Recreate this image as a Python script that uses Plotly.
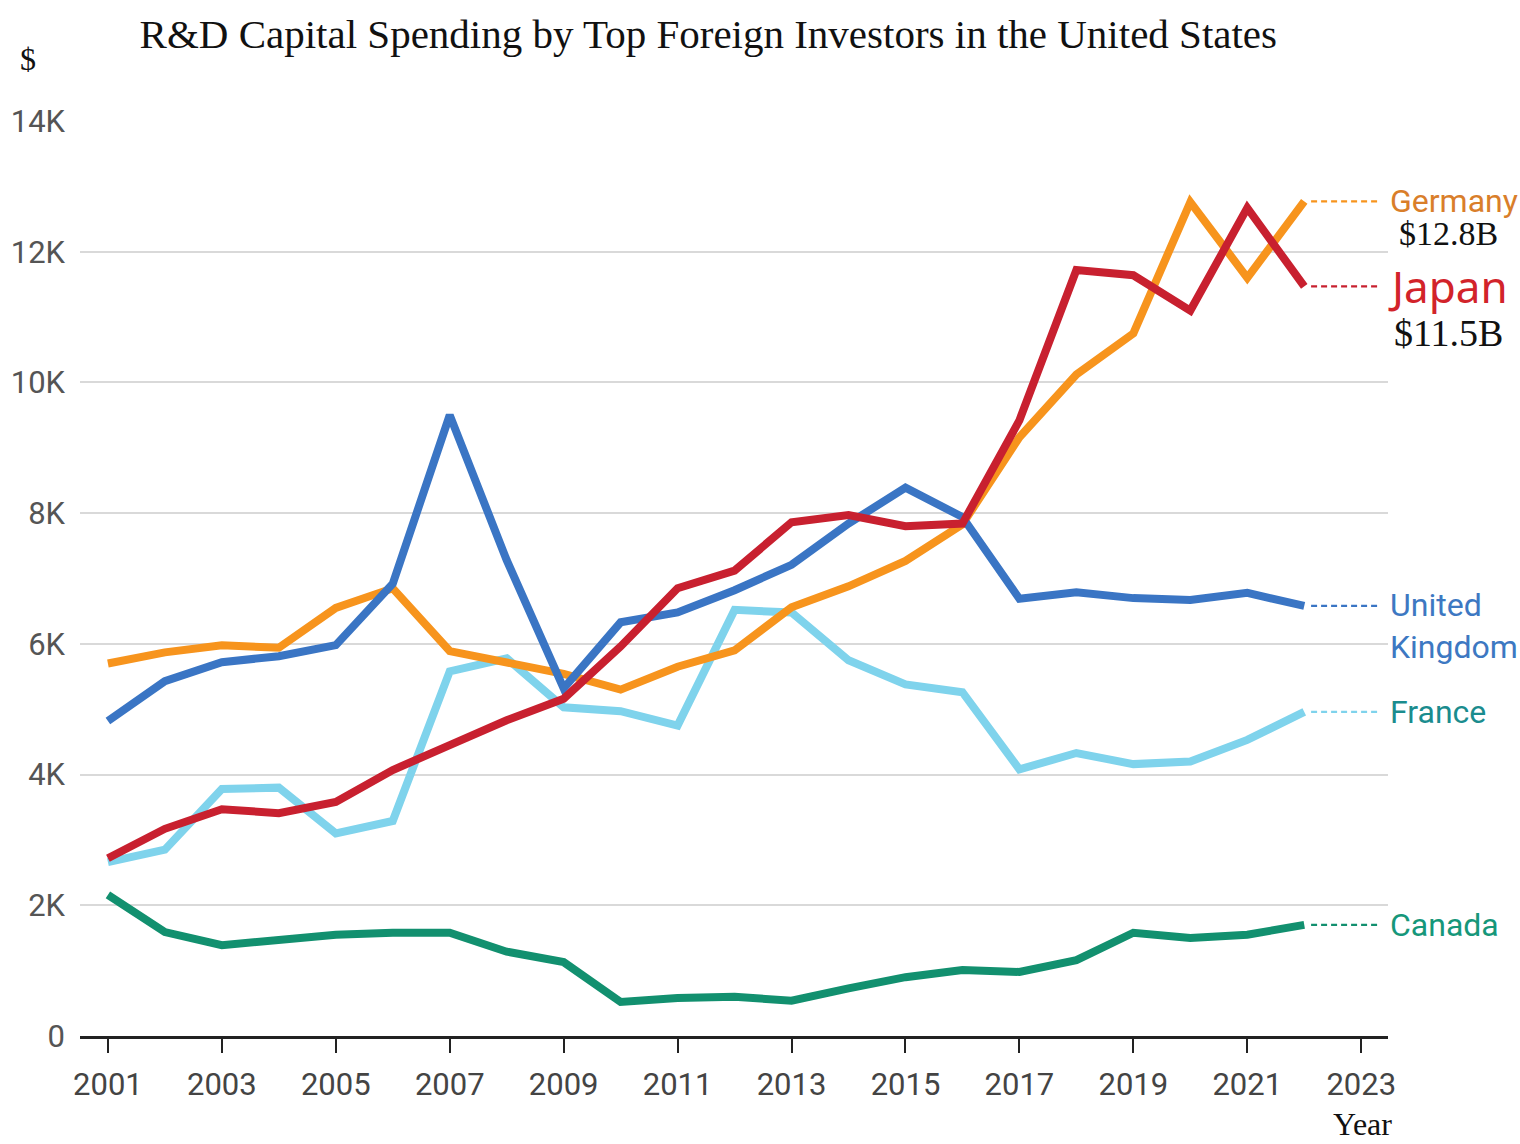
import plotly.graph_objects as go

years = list(range(2001, 2023))

germany = [5.70, 5.87, 5.98, 5.94, 6.55, 6.85, 5.89, 5.72, 5.54, 5.30, 5.65, 5.90,
           6.56, 6.88, 7.27, 7.83, 9.16, 10.12, 10.75, 12.76, 11.60, 12.77]
japan = [2.72, 3.17, 3.47, 3.41, 3.58, 4.07, 4.45, 4.83, 5.16, 5.96, 6.85, 7.12,
         7.86, 7.97, 7.80, 7.84, 9.42, 11.72, 11.64, 11.10, 12.67, 11.47]
uk = [4.82, 5.43, 5.72, 5.81, 5.98, 6.92, 9.50, 7.28, 5.32, 6.33, 6.48, 6.82,
      7.21, 7.84, 8.39, 7.94, 6.69, 6.79, 6.70, 6.67, 6.78, 6.58]
france = [2.66, 2.85, 3.78, 3.80, 3.10, 3.29, 5.58, 5.78, 5.03, 4.97, 4.75, 6.52,
          6.48, 5.75, 5.38, 5.26, 4.08, 4.33, 4.16, 4.20, 4.53, 4.96]
canada = [2.16, 1.59, 1.39, 1.47, 1.55, 1.58, 1.58, 1.29, 1.13, 0.52, 0.58, 0.60,
          0.54, 0.73, 0.90, 1.01, 0.98, 1.16, 1.58, 1.50, 1.55, 1.70]

series = [
    # name, values, line color, label text, label color
    ("Canada", canada, "#12906F", "Canada", "#16977A"),
    ("France", france, "#7FD3EC", "France", "#1A8C8E"),
    ("Germany", germany, "#F7941D", "Germany", "#D97E2A"),
    ("United Kingdom", uk, "#3A75C4", "United<br>Kingdom", "#3D78C2"),
    ("Japan", japan, "#C8202F", "Japan", "#D2232A"),
]

xticks = list(range(2001, 2024, 2))
yticks = [0, 2000, 4000, 6000, 8000, 10000, 12000, 14000]
yticklabels = ["0", "2K", "4K", "6K", "8K", "10K", "12K", "14K"]

fig = go.Figure()
shapes = []
annotations = []

for name, vals, color, label, lcolor in series:
    yv = [v * 1000 for v in vals]
    fig.add_trace(go.Scatter(
        x=years, y=yv, mode="lines", name=name,
        line=dict(color=color, width=8),
        hoverinfo="x+y+name",
    ))
    shapes.append(dict(
        type="line", xref="x", yref="y",
        x0=years[-1] + 0.12, x1=years[-1] + 1.28,
        y0=yv[-1], y1=yv[-1],
        line=dict(color=color, width=2.2, dash="6px,4px"),
        layer="above",
    ))
    if name == "United Kingdom":
        annotations.append(dict(
            xref="paper", yref="y", x=1.0, y=yv[-1], xanchor="left", yanchor="top",
            xshift=0, yshift=22, text=label, showarrow=False, align="left",
            font=dict(family="Roboto", size=32, color=lcolor),
        ))
    elif name == "Japan":
        annotations.append(dict(
            xref="paper", yref="y", x=1.0, y=yv[-1], xanchor="left", yanchor="middle",
            xshift=-2, yshift=0, text=label, showarrow=False,
            font=dict(family="Noto Sans", size=44, color=lcolor),
        ))
    else:
        annotations.append(dict(
            xref="paper", yref="y", x=1.0, y=yv[-1], xanchor="left", yanchor="middle",
            xshift=0, yshift=0, text=label, showarrow=False,
            font=dict(family="Roboto", size=32, color=lcolor),
        ))

# value callouts
annotations.append(dict(
    xref="paper", yref="y", x=1.0, y=germany[-1] * 1000, xanchor="center", yanchor="middle",
    xshift=60, yshift=-32, text="$12.8B", showarrow=False,
    font=dict(family="Liberation Serif", size=34, color="#111111"),
))
annotations.append(dict(
    xref="paper", yref="y", x=1.0, y=japan[-1] * 1000, xanchor="center", yanchor="middle",
    xshift=60, yshift=-47, text="$11.5B", showarrow=False,
    font=dict(family="Liberation Serif", size=38, color="#111111"),
))
# axis titles
annotations.append(dict(
    xref="paper", yref="paper", x=0, y=1, xanchor="center", yanchor="middle",
    xshift=-52, yshift=62, text="$", showarrow=False,
    font=dict(family="Liberation Serif", size=32, color="#111111"),
))
annotations.append(dict(
    xref="paper", yref="paper", x=1, y=0, xanchor="right", yanchor="middle",
    xshift=6, yshift=-88, text="Year", showarrow=False,
    font=dict(family="Liberation Serif", size=32, color="#111111"),
))

fig.update_layout(
    width=1520, height=1144,
    margin=dict(l=80, r=132, t=121, b=108, autoexpand=False),
    paper_bgcolor="white", plot_bgcolor="white",
    showlegend=False,
    title=dict(
        text="R&D Capital Spending by Top Foreign Investors in the United States",
        x=0.466, xanchor="center", y=0.971, yanchor="middle",
        font=dict(family="Liberation Serif", size=41, color="#111111"),
    ),
    shapes=shapes,
    annotations=annotations,
)

fig.update_xaxes(
    range=[2000.51, 2023.47], automargin=False,
    tickmode="array", tickvals=xticks, ticktext=[str(t) for t in xticks],
    showgrid=False, zeroline=False,
    showline=True, linecolor="#222222", linewidth=3,
    ticks="outside", ticklen=14, tickwidth=2, tickcolor="#222222",
    tickfont=dict(family="Roboto", size=31, color="#444444"),
    ticklabelstandoff=5,
)
fig.update_yaxes(
    range=[0, 14000], automargin=False,
    tickmode="array", tickvals=yticks, ticktext=yticklabels,
    showgrid=True, gridcolor="#D9D9D9", gridwidth=2,
    zeroline=False, showline=False, ticks="",
    tickfont=dict(family="Roboto", size=31, color="#555555"),
    ticklabelstandoff=14,
)

fig.write_html(
    "out.html",
    config={"displayModeBar": False},
    post_script="document.body.style.margin='0';document.body.style.overflow='hidden';",
)
